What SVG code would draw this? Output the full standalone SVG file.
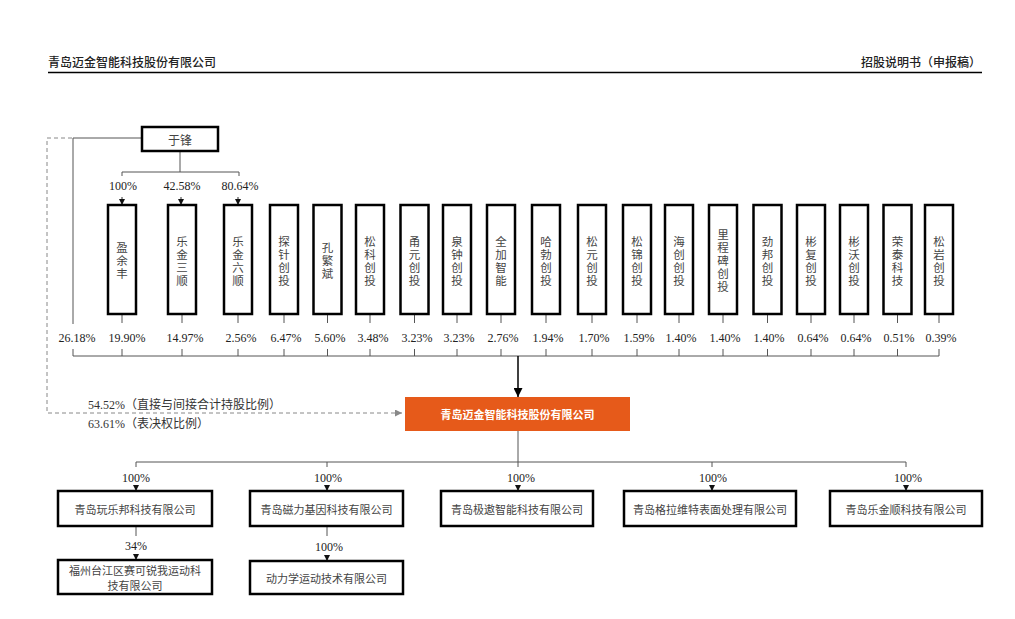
<svg xmlns="http://www.w3.org/2000/svg" width="1015" height="619" viewBox="0 0 1015 619">
<defs>
<style>
.hd{font-family:"Noto Sans CJK SC",sans-serif;font-size:12px;fill:#222;font-weight:500}
.box{fill:#fff;stroke:#000;stroke-width:2.5}
.vt{font-family:"Noto Sans CJK SC",sans-serif;font-size:11.5px;fill:#444;text-anchor:middle;dominant-baseline:central}
.bt{font-family:"Noto Sans CJK SC",sans-serif;font-size:11px;fill:#444;text-anchor:middle;dominant-baseline:central}
.pct{font-family:"Liberation Serif",serif;font-size:12px;fill:#222;text-anchor:middle;dominant-baseline:central}
.lbl{font-family:"Liberation Serif","Noto Sans CJK SC",sans-serif;font-size:12px;fill:#333;dominant-baseline:central}
.ln{stroke:#555;stroke-width:1;fill:none}
.ar{stroke:#333;stroke-width:1;fill:none;marker-end:url(#ah)}
.dash{stroke:#888;stroke-width:1;fill:none;stroke-dasharray:4 3}
</style>
<marker id="ah" viewBox="0 0 6 6" refX="6" refY="3" markerWidth="6" markerHeight="6" markerUnits="userSpaceOnUse" orient="auto"><path d="M0,0 L6,3 L0,6 z" fill="#111"/></marker>
<marker id="ahb" viewBox="0 0 8 8" refX="8" refY="4" markerWidth="9" markerHeight="9" markerUnits="userSpaceOnUse" orient="auto"><path d="M0,0 L8,4 L0,8 z" fill="#000"/></marker>
<marker id="ahg" viewBox="0 0 6 6" refX="6" refY="3" markerWidth="7" markerHeight="7" markerUnits="userSpaceOnUse" orient="auto"><path d="M0,0 L6,3 L0,6 z" fill="#888"/></marker>
</defs>
<rect width="1015" height="619" fill="#fff"/>

<g id="header">
<text class="hd" x="48" y="67">青岛迈金智能科技股份有限公司</text>
<text class="hd" x="981" y="67" text-anchor="end">招股说明书（申报稿）</text>
<line x1="48" y1="72.5" x2="982" y2="72.5" stroke="#000" stroke-width="1.5"/>
</g>

<g id="connectors">
<path class="ln" d="M180,151 V172 M122,176 V172 H239 V176"/>
<path class="ar" d="M122,197 V205"/>
<path class="ar" d="M181,197 V205"/>
<path class="ar" d="M238,197 V205"/>
<path class="ln" d="M142,138 H73 V324"/>
<path class="dash" d="M72,138 H47 V413 H402" marker-end="url(#ahg)"/>
<path class="ln" d="M122,315 V323 M182,315 V323 M238,315 V323 M284,315 V323 M327.5,315 V323 M370,315 V323 M414.5,315 V323 M457,315 V323 M501,315 V323 M546,315 V323 M592,315 V323 M637,315 V323 M679,315 V323 M723,315 V323 M767.5,315 V323 M811,315 V323 M854,315 V323 M897.5,315 V323 M939,315 V323"/>
<path class="ln" d="M73,349 V356 M122,349 V356 M182,349 V356 M238,349 V356 M284,349 V356 M327.5,349 V356 M370,349 V356 M414.5,349 V356 M457,349 V356 M501,349 V356 M546,349 V356 M592,349 V356 M637,349 V356 M679,349 V356 M723,349 V356 M767.5,349 V356 M811,349 V356 M854,349 V356 M897.5,349 V356 M939,349 V356"/>
<path class="ln" d="M73,356 H939"/>
<path d="M518,356 V397" stroke="#000" stroke-width="1.5" fill="none" marker-end="url(#ahb)"/>
<path class="ln" d="M518,431 V467 M136,467 V462 H906 V467 M327,462 V467 M712,462 V467"/>
<path class="ar" d="M136,485 V491"/>
<path class="ar" d="M327,485 V491"/>
<path class="ar" d="M518,485 V491"/>
<path class="ar" d="M712,485 V491"/>
<path class="ar" d="M906,485 V491"/>
<path class="ln" d="M136,526 V536 M327,526 V536"/>
<path class="ar" d="M136,554 V560"/>
<path class="ar" d="M327,555 V561"/>
</g>

<g id="labels">
<text class="pct" x="123" y="186">100%</text>
<text class="pct" x="182" y="186">42.58%</text>
<text class="pct" x="240" y="186">80.64%</text>
<text class="pct" x="77" y="338">26.18%</text>
<text class="pct" x="127" y="338">19.90%</text>
<text class="pct" x="185" y="338">14.97%</text>
<text class="pct" x="241" y="338">2.56%</text>
<text class="pct" x="286" y="338">6.47%</text>
<text class="pct" x="330" y="338">5.60%</text>
<text class="pct" x="373" y="338">3.48%</text>
<text class="pct" x="417" y="338">3.23%</text>
<text class="pct" x="459" y="338">3.23%</text>
<text class="pct" x="503" y="338">2.76%</text>
<text class="pct" x="548" y="338">1.94%</text>
<text class="pct" x="594" y="338">1.70%</text>
<text class="pct" x="639" y="338">1.59%</text>
<text class="pct" x="681" y="338">1.40%</text>
<text class="pct" x="725" y="338">1.40%</text>
<text class="pct" x="769" y="338">1.40%</text>
<text class="pct" x="813" y="338">0.64%</text>
<text class="pct" x="856" y="338">0.64%</text>
<text class="pct" x="899" y="338">0.51%</text>
<text class="pct" x="941" y="338">0.39%</text>
<text class="lbl" x="88" y="405">54.52%（直接与间接合计持股比例）</text>
<text class="lbl" x="88" y="424">63.61%（表决权比例）</text>
<text class="pct" x="136" y="478">100%</text>
<text class="pct" x="328" y="478">100%</text>
<text class="pct" x="521" y="478">100%</text>
<text class="pct" x="713" y="478">100%</text>
<text class="pct" x="908" y="478">100%</text>
<text class="pct" x="136" y="546">34%</text>
<text class="pct" x="329" y="547">100%</text>
</g>

<g id="n-yufeng"><rect class="box" x="142" y="127" width="76" height="24"/><text class="bt" x="180" y="139" style="font-size:12px">于锋</text></g>

<g id="n-yingyufeng"><rect class="box" x="108" y="205" width="28" height="109"/><text class="vt"><tspan x="122" y="247">盈</tspan><tspan x="122" y="260">余</tspan><tspan x="122" y="273">丰</tspan></text></g>
<g id="n-lejinsanshun"><rect class="box" x="168" y="205" width="28" height="109"/><text class="vt"><tspan x="182" y="240.5">乐</tspan><tspan x="182" y="253.5">金</tspan><tspan x="182" y="266.5">三</tspan><tspan x="182" y="279.5">顺</tspan></text></g>
<g id="n-lejinliushun"><rect class="box" x="224" y="205" width="28" height="109"/><text class="vt"><tspan x="238" y="240.5">乐</tspan><tspan x="238" y="253.5">金</tspan><tspan x="238" y="266.5">六</tspan><tspan x="238" y="279.5">顺</tspan></text></g>
<g id="n-tanzhen"><rect class="box" x="270" y="205" width="28" height="109"/><text class="vt"><tspan x="284" y="240.5">探</tspan><tspan x="284" y="253.5">针</tspan><tspan x="284" y="266.5">创</tspan><tspan x="284" y="279.5">投</tspan></text></g>
<g id="n-kongfanbin"><rect class="box" x="313.5" y="205" width="28" height="109"/><text class="vt"><tspan x="327.5" y="247">孔</tspan><tspan x="327.5" y="260">繁</tspan><tspan x="327.5" y="273">斌</tspan></text></g>
<g id="n-songke"><rect class="box" x="356" y="205" width="28" height="109"/><text class="vt"><tspan x="370" y="240.5">松</tspan><tspan x="370" y="253.5">科</tspan><tspan x="370" y="266.5">创</tspan><tspan x="370" y="279.5">投</tspan></text></g>
<g id="n-yongyuan"><rect class="box" x="400.5" y="205" width="28" height="109"/><text class="vt"><tspan x="414.5" y="240.5">甬</tspan><tspan x="414.5" y="253.5">元</tspan><tspan x="414.5" y="266.5">创</tspan><tspan x="414.5" y="279.5">投</tspan></text></g>
<g id="n-quanzhong"><rect class="box" x="443" y="205" width="28" height="109"/><text class="vt"><tspan x="457" y="240.5">泉</tspan><tspan x="457" y="253.5">钟</tspan><tspan x="457" y="266.5">创</tspan><tspan x="457" y="279.5">投</tspan></text></g>
<g id="n-quanjia"><rect class="box" x="487" y="205" width="28" height="109"/><text class="vt"><tspan x="501" y="240.5">全</tspan><tspan x="501" y="253.5">加</tspan><tspan x="501" y="266.5">智</tspan><tspan x="501" y="279.5">能</tspan></text></g>
<g id="n-habo"><rect class="box" x="532" y="205" width="28" height="109"/><text class="vt"><tspan x="546" y="240.5">哈</tspan><tspan x="546" y="253.5">勃</tspan><tspan x="546" y="266.5">创</tspan><tspan x="546" y="279.5">投</tspan></text></g>
<g id="n-songyuan"><rect class="box" x="578" y="205" width="28" height="109"/><text class="vt"><tspan x="592" y="240.5">松</tspan><tspan x="592" y="253.5">元</tspan><tspan x="592" y="266.5">创</tspan><tspan x="592" y="279.5">投</tspan></text></g>
<g id="n-songjin"><rect class="box" x="623" y="205" width="28" height="109"/><text class="vt"><tspan x="637" y="240.5">松</tspan><tspan x="637" y="253.5">锦</tspan><tspan x="637" y="266.5">创</tspan><tspan x="637" y="279.5">投</tspan></text></g>
<g id="n-haichuang"><rect class="box" x="665" y="205" width="28" height="109"/><text class="vt"><tspan x="679" y="240.5">海</tspan><tspan x="679" y="253.5">创</tspan><tspan x="679" y="266.5">创</tspan><tspan x="679" y="279.5">投</tspan></text></g>
<g id="n-lichengbei"><rect class="box" x="709" y="205" width="28" height="109"/><text class="vt"><tspan x="723" y="234">里</tspan><tspan x="723" y="247">程</tspan><tspan x="723" y="260">碑</tspan><tspan x="723" y="273">创</tspan><tspan x="723" y="286">投</tspan></text></g>
<g id="n-jinbang"><rect class="box" x="753.5" y="205" width="28" height="109"/><text class="vt"><tspan x="767.5" y="240.5">劲</tspan><tspan x="767.5" y="253.5">邦</tspan><tspan x="767.5" y="266.5">创</tspan><tspan x="767.5" y="279.5">投</tspan></text></g>
<g id="n-binfu"><rect class="box" x="797" y="205" width="28" height="109"/><text class="vt"><tspan x="811" y="240.5">彬</tspan><tspan x="811" y="253.5">复</tspan><tspan x="811" y="266.5">创</tspan><tspan x="811" y="279.5">投</tspan></text></g>
<g id="n-binwo"><rect class="box" x="840" y="205" width="28" height="109"/><text class="vt"><tspan x="854" y="240.5">彬</tspan><tspan x="854" y="253.5">沃</tspan><tspan x="854" y="266.5">创</tspan><tspan x="854" y="279.5">投</tspan></text></g>
<g id="n-rongtai"><rect class="box" x="883.5" y="205" width="28" height="109"/><text class="vt"><tspan x="897.5" y="240.5">荣</tspan><tspan x="897.5" y="253.5">泰</tspan><tspan x="897.5" y="266.5">科</tspan><tspan x="897.5" y="279.5">技</tspan></text></g>
<g id="n-songyan"><rect class="box" x="925" y="205" width="28" height="109"/><text class="vt"><tspan x="939" y="240.5">松</tspan><tspan x="939" y="253.5">岩</tspan><tspan x="939" y="266.5">创</tspan><tspan x="939" y="279.5">投</tspan></text></g>

<g id="n-maijin"><rect x="405" y="397" width="225" height="34" fill="#E65A1A"/><text class="bt" x="517.5" y="414" style="fill:#fff;font-weight:700">青岛迈金智能科技股份有限公司</text></g>

<g id="n-wanlebang"><rect class="box" x="58" y="491" width="154" height="35"/><text class="bt" x="135" y="508.5">青岛玩乐邦科技有限公司</text></g>
<g id="n-cili"><rect class="box" x="250" y="491" width="153" height="35"/><text class="bt" x="326.5" y="508.5">青岛磁力基因科技有限公司</text></g>
<g id="n-jiao"><rect class="box" x="441" y="491" width="152" height="35"/><text class="bt" x="517" y="508.5">青岛极遨智能科技有限公司</text></g>
<g id="n-gelaweite"><rect class="box" x="624" y="491" width="172" height="35"/><text class="bt" x="710" y="508.5">青岛格拉维特表面处理有限公司</text></g>
<g id="n-lejinshun"><rect class="box" x="830" y="491" width="152" height="35"/><text class="bt" x="906" y="508.5">青岛乐金顺科技有限公司</text></g>
<g id="n-fuzhou"><rect class="box" x="58" y="560" width="154" height="34"/><text class="bt"><tspan x="135" y="570">福州台江区赛可锐我运动科</tspan><tspan x="135" y="585">技有限公司</tspan></text></g>
<g id="n-donglixue"><rect class="box" x="250" y="561" width="153" height="33"/><text class="bt" x="326.5" y="577.5">动力学运动技术有限公司</text></g>
</svg>
